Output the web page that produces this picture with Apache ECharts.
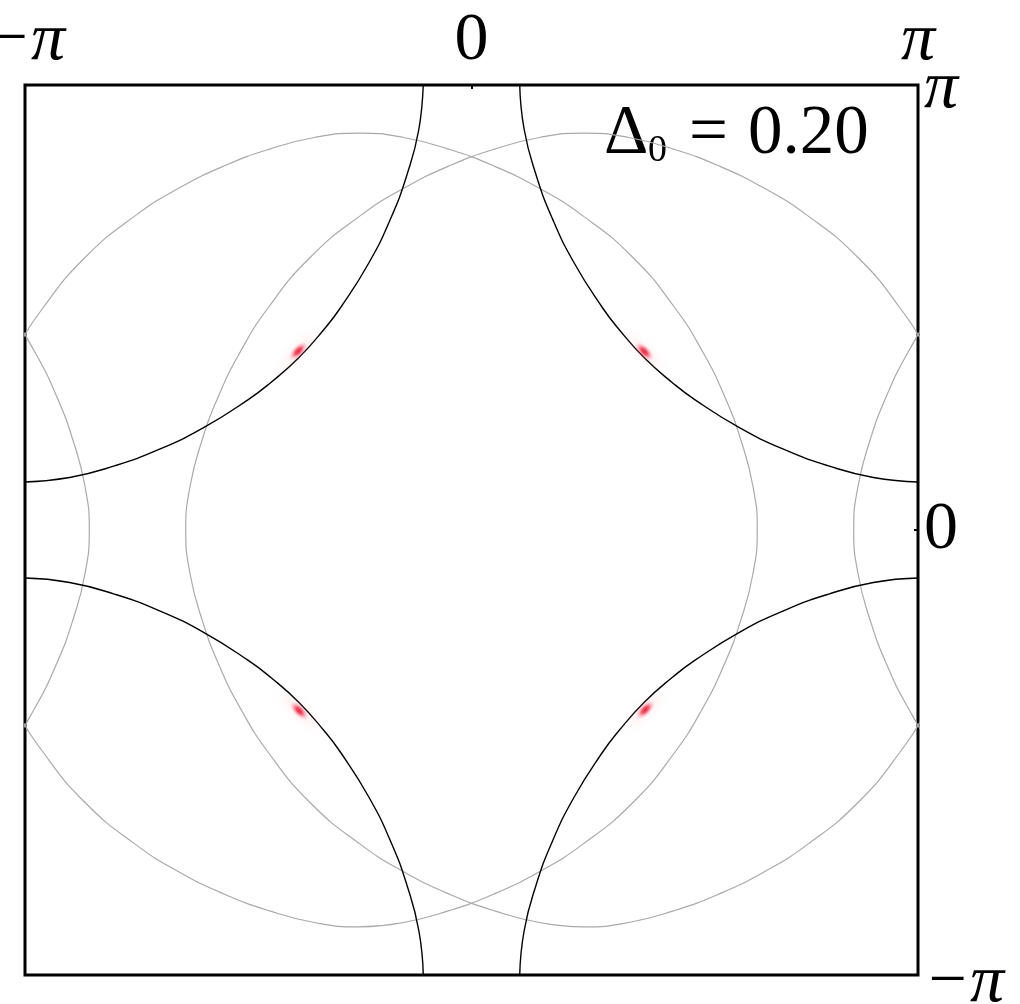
<!DOCTYPE html>
<html>
<head>
<meta charset="utf-8">
<script src="https://cdn.jsdelivr.net/npm/echarts@6/dist/echarts.min.js"></script>
<style>html,body{margin:0;padding:0;background:#fff}#c{width:1020px;height:1004px}</style>
</head>
<body>
<div id="c"></div>
<script>
// axis values are in units of pi
const tickLabels = ['−π', '0', 'π']; // at -1, 0, 1

// black Fermi-surface arcs (one per corner pocket)
const blackTL = [[-1,0.108],[-0.9,0.118],[-0.8,0.144],[-0.7,0.181],[-0.6,0.23],[-0.5,0.293],[-0.45,0.331],[-0.387,0.387],[-0.331,0.45],[-0.293,0.5],[-0.23,0.6],[-0.181,0.7],[-0.144,0.8],[-0.118,0.9],[-0.108,1]];
const blackTR = [[1,0.108],[0.9,0.118],[0.8,0.144],[0.7,0.181],[0.6,0.23],[0.5,0.293],[0.45,0.331],[0.387,0.387],[0.331,0.45],[0.293,0.5],[0.23,0.6],[0.181,0.7],[0.144,0.8],[0.118,0.9],[0.108,1]];
const blackBL = [[-1,-0.108],[-0.9,-0.118],[-0.8,-0.144],[-0.7,-0.181],[-0.6,-0.23],[-0.5,-0.293],[-0.45,-0.331],[-0.387,-0.387],[-0.331,-0.45],[-0.293,-0.5],[-0.23,-0.6],[-0.181,-0.7],[-0.144,-0.8],[-0.118,-0.9],[-0.108,-1]];
const blackBR = [[1,-0.108],[0.9,-0.118],[0.8,-0.144],[0.7,-0.181],[0.6,-0.23],[0.5,-0.293],[0.45,-0.331],[0.387,-0.387],[0.331,-0.45],[0.293,-0.5],[0.23,-0.6],[0.181,-0.7],[0.144,-0.8],[0.118,-0.9],[0.108,-1]];

// gray shifted contours
const grayA = [[-0.252,-0.892],[-0.152,-0.882],[-0.052,-0.856],[0.048,-0.819],[0.148,-0.77],[0.248,-0.707],[0.361,-0.613],[0.455,-0.5],[0.518,-0.4],[0.567,-0.3],[0.604,-0.2],[0.63,-0.1],[0.64,0],[0.63,0.1],[0.604,0.2],[0.567,0.3],[0.518,0.4],[0.455,0.5],[0.361,0.613],[0.248,0.707],[0.148,0.77],[0.048,0.819],[-0.052,0.856],[-0.152,0.882],[-0.252,0.892],[-0.352,0.882],[-0.452,0.856],[-0.552,0.819],[-0.652,0.77],[-0.752,0.707],[-0.865,0.613],[-0.959,0.5],[-1.022,0.4],[-1.071,0.3],[-1.108,0.2],[-1.134,0.1],[-1.144,0],[-1.134,-0.1],[-1.108,-0.2],[-1.071,-0.3],[-1.022,-0.4],[-0.959,-0.5],[-0.865,-0.613],[-0.752,-0.707],[-0.652,-0.77],[-0.552,-0.819],[-0.452,-0.856],[-0.352,-0.882],[-0.252,-0.892],[-0.152,-0.882]];
const grayB = [[0.252,-0.892],[0.152,-0.882],[0.052,-0.856],[-0.048,-0.819],[-0.148,-0.77],[-0.248,-0.707],[-0.361,-0.613],[-0.455,-0.5],[-0.518,-0.4],[-0.567,-0.3],[-0.604,-0.2],[-0.63,-0.1],[-0.64,0],[-0.63,0.1],[-0.604,0.2],[-0.567,0.3],[-0.518,0.4],[-0.455,0.5],[-0.361,0.613],[-0.248,0.707],[-0.148,0.77],[-0.048,0.819],[0.052,0.856],[0.152,0.882],[0.252,0.892],[0.352,0.882],[0.452,0.856],[0.552,0.819],[0.652,0.77],[0.752,0.707],[0.865,0.613],[0.959,0.5],[1.022,0.4],[1.071,0.3],[1.108,0.2],[1.134,0.1],[1.144,0],[1.134,-0.1],[1.108,-0.2],[1.071,-0.3],[1.022,-0.4],[0.959,-0.5],[0.865,-0.613],[0.752,-0.707],[0.652,-0.77],[0.552,-0.819],[0.452,-0.856],[0.352,-0.882],[0.252,-0.892],[0.152,-0.882]];
const grayRight = [[1.135,0.613],[1.041,0.5],[0.978,0.4],[0.929,0.3],[0.892,0.2],[0.866,0.1],[0.856,0],[0.866,-0.1],[0.892,-0.2],[0.929,-0.3],[0.978,-0.4],[1.041,-0.5],[1.135,-0.613]];
const grayLeft = [[-1.135,0.613],[-1.041,0.5],[-0.978,0.4],[-0.929,0.3],[-0.892,0.2],[-0.866,0.1],[-0.856,0],[-0.866,-0.1],[-0.892,-0.2],[-0.929,-0.3],[-0.978,-0.4],[-1.041,-0.5],[-1.135,-0.613]];

// red spectral-weight spots
const spots = [[-0.388,0.402],[0.387,0.401],[-0.386,-0.406],[0.389,-0.404]];
const spotAngles = [45, -45, -45, 45];

const chart = echarts.init(document.getElementById('c'), null, {renderer: 'canvas'});
const serif = '"Liberation Serif", "DejaVu Serif", serif';
const rich = {
  r: {fontFamily: serif, fontSize: 68, color: '#000'},
  i: {fontFamily: serif, fontSize: 68, fontStyle: 'italic', color: '#000'},
  iTop: {fontFamily: serif, fontSize: 68, fontStyle: 'italic', color: '#000', padding: [8, 0, 0, 0]},
  iBot: {fontFamily: serif, fontSize: 68, fontStyle: 'italic', color: '#000', padding: [16, 0, 0, 0]}
};
function fmtX(v) {
  const s = tickLabels[Math.round(v) + 1];
  return s.indexOf('π') >= 0 ? '{i|' + s + '}' : '{r|' + s + '}';
}
function fmtY(v) {
  const s = tickLabels[Math.round(v) + 1];
  if (s.indexOf('π') < 0) return '{r|' + s + '}';
  return v > 0 ? '{iTop|' + s + '}' : '{iBot|' + s + '}';
}
function lineS(data, color, width) {
  return {type: 'line', data: data, showSymbol: false, smooth: 0.5, silent: true,
    lineStyle: {color: color, width: width}, clip: true, z: 3};
}
const grad = (stops) => ({type: 'radial', x: 0.5, y: 0.5, r: 0.5,
  colorStops: stops.map((c, k) => ({offset: k / (stops.length - 1), color: c}))});

const option = {
  animation: false,
  backgroundColor: '#fff',
  grid: {left: 25, top: 85, width: 893, height: 890, show: true, borderColor: '#000', borderWidth: 3,
    backgroundColor: 'transparent', containLabel: false, outerBoundsMode: 'none'},
  xAxis: {type: 'value', min: -1, max: 1, interval: 1, position: 'top',
    axisLine: {show: false, onZero: false}, splitLine: {show: false},
    axisTick: {show: true, inside: true, length: 4, lineStyle: {color: '#000', width: 2}},
    axisLabel: {show: true, margin: 10, showMinLabel: true, showMaxLabel: true, hideOverlap: false, formatter: fmtX, rich: rich}},
  yAxis: {type: 'value', min: -1, max: 1, interval: 1, position: 'right',
    axisLine: {show: false, onZero: false}, splitLine: {show: false},
    axisTick: {show: true, inside: true, length: 4, lineStyle: {color: '#000', width: 2}},
    axisLabel: {show: true, margin: 6, showMinLabel: true, showMaxLabel: true, hideOverlap: false, formatter: fmtY, rich: rich}},
  graphic: [
    {type: 'text', left: 604, top: 100, style: {text: 'Δ', font: '69px ' + serif, fill: '#000'}},
    {type: 'text', left: 648, top: 132, style: {text: '0', font: '38px ' + serif, fill: '#000'}},
    {type: 'text', left: 689, top: 100, style: {text: '=', font: '69px ' + serif, fill: '#000'}},
    {type: 'text', left: 748, top: 100, style: {text: '0.20', font: '69px ' + serif, fill: '#000'}}
  ],
  series: [
    lineS(grayA, '#a9a9a9', 1.2),
    lineS(grayB, '#a9a9a9', 1.2),
    lineS(grayRight, '#a9a9a9', 1.2),
    lineS(grayLeft, '#a9a9a9', 1.2),
    lineS(blackTL, '#000', 1.4),
    lineS(blackTR, '#000', 1.4),
    lineS(blackBL, '#000', 1.4),
    lineS(blackBR, '#000', 1.4),
    {type: 'scatter', silent: true, z: 4, symbol: 'circle', symbolSize: [80, 30],
      data: spots.map((p, k) => ({value: p, symbolRotate: spotAngles[k]})),
      itemStyle: {color: grad(['rgba(255,90,110,0.22)', 'rgba(255,130,150,0.1)', 'rgba(255,180,190,0.04)', 'rgba(255,220,225,0)'])}},
    {type: 'scatter', silent: true, z: 5, symbol: 'circle', symbolSize: [24, 12],
      data: spots.map((p, k) => ({value: p, symbolRotate: spotAngles[k]})),
      itemStyle: {color: grad(['rgba(220,0,25,1)', 'rgba(232,15,45,0.85)', 'rgba(245,70,95,0.35)', 'rgba(255,140,155,0)'])}}
  ]
};
chart.setOption(option);
</script>
</body>
</html>
